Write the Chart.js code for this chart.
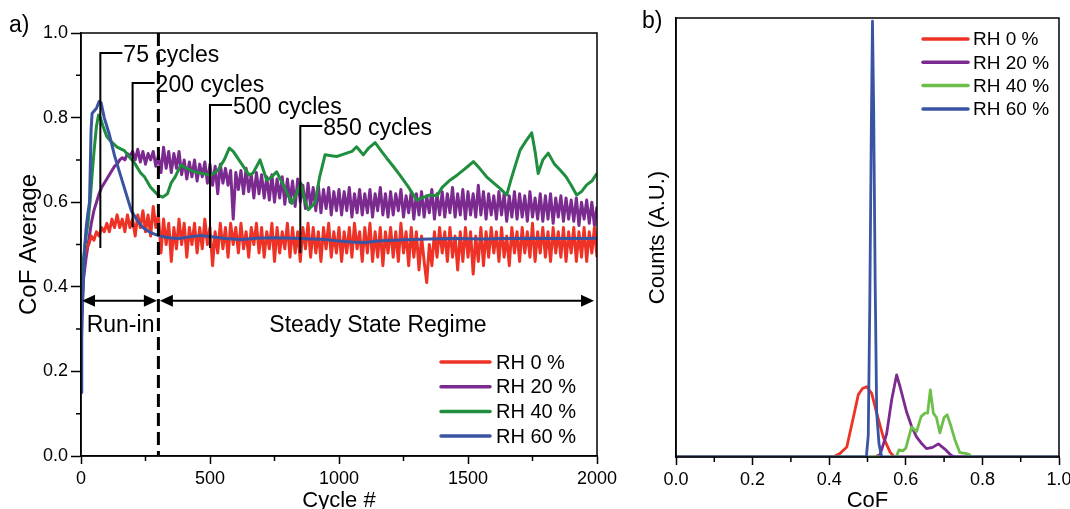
<!DOCTYPE html>
<html><head><meta charset="utf-8">
<script src="https://cdn.jsdelivr.net/npm/chart.js@4.4.1/dist/chart.umd.min.js"></script>
<style>
html,body{margin:0;padding:0;background:#fff;overflow:hidden;width:1070px;height:509px;}
#wa{position:absolute;left:0;top:0;width:630px;height:509px;}
#wb{position:absolute;left:630px;top:0;width:470px;height:509px;}
canvas{display:block;}
</style></head><body>
<div id="wa"><canvas id="ca" width="630" height="509"></canvas></div>
<div id="wb"><canvas id="cb" width="470" height="509"></canvas></div>
<script>
// ---------------- DATA ----------------
const seriesLabels = ['RH 0 %', 'RH 20 %', 'RH 40 %', 'RH 60 %'];

// Panel a) : noisy series sampled every 10 cycles (0..2000)
const cycleGrid = Array.from({length: 201}, (_, i) => i * 10);
const rh0CoF = [
  0.37,0.46,0.49,0.50,0.52,0.51,0.53,0.52,0.54,0.53,
  0.55,0.53,0.56,0.54,0.57,0.54,0.56,0.53,0.57,0.54,
  0.56,0.52,0.57,0.54,0.58,0.53,0.57,0.52,0.59,0.54,
  0.57,0.48,0.56,0.50,0.55,0.46,0.54,0.49,0.56,0.50,
  0.55,0.47,0.54,0.50,0.55,0.48,0.54,0.49,0.56,0.50,
  0.54,0.45,0.53,0.48,0.55,0.49,0.54,0.47,0.55,0.50,
  0.54,0.48,0.55,0.49,0.53,0.47,0.54,0.50,0.55,0.48,
  0.54,0.47,0.53,0.49,0.55,0.46,0.54,0.48,0.53,0.49,
  0.55,0.47,0.54,0.48,0.53,0.46,0.54,0.49,0.55,0.47,
  0.54,0.48,0.53,0.46,0.54,0.49,0.55,0.47,0.53,0.48,
  0.54,0.46,0.53,0.48,0.54,0.47,0.55,0.49,0.53,0.46,
  0.54,0.48,0.55,0.46,0.53,0.47,0.54,0.45,0.53,0.48,
  0.54,0.47,0.53,0.46,0.55,0.48,0.53,0.45,0.54,0.47,
  0.53,0.44,0.52,0.46,0.41,0.50,0.45,0.53,0.47,0.54,
  0.48,0.53,0.46,0.54,0.47,0.52,0.44,0.53,0.46,0.54,
  0.47,0.53,0.43,0.52,0.46,0.54,0.45,0.53,0.47,0.54,
  0.48,0.53,0.46,0.54,0.47,0.52,0.45,0.54,0.48,0.53,
  0.46,0.54,0.48,0.53,0.47,0.55,0.46,0.53,0.48,0.54,
  0.47,0.53,0.46,0.54,0.48,0.53,0.47,0.54,0.46,0.53,
  0.48,0.54,0.46,0.53,0.47,0.54,0.46,0.53,0.48,0.54,
  0.47
];
const rh20CoF = [
  0.30,0.42,0.47,0.51,0.55,0.58,0.60,0.62,0.635,0.645,
  0.655,0.665,0.675,0.685,0.69,0.70,0.705,0.70,0.715,0.71,
  0.72,0.70,0.725,0.695,0.72,0.69,0.715,0.70,0.72,0.685,
  0.71,0.67,0.73,0.68,0.72,0.67,0.715,0.68,0.72,0.665,
  0.70,0.655,0.695,0.66,0.70,0.65,0.69,0.66,0.695,0.645,
  0.69,0.64,0.685,0.62,0.69,0.645,0.68,0.64,0.675,0.56,
  0.67,0.63,0.675,0.62,0.68,0.625,0.665,0.61,0.67,0.62,
  0.665,0.61,0.66,0.605,0.665,0.60,0.655,0.61,0.66,0.595,
  0.655,0.60,0.65,0.59,0.655,0.60,0.64,0.585,0.645,0.59,
  0.635,0.58,0.64,0.575,0.63,0.585,0.635,0.57,0.625,0.58,
  0.63,0.57,0.625,0.58,0.635,0.565,0.62,0.575,0.63,0.57,
  0.62,0.575,0.63,0.565,0.62,0.58,0.635,0.57,0.62,0.565,
  0.625,0.57,0.62,0.58,0.63,0.565,0.615,0.575,0.625,0.56,
  0.62,0.57,0.625,0.565,0.615,0.575,0.63,0.56,0.62,0.57,
  0.625,0.565,0.62,0.575,0.635,0.565,0.62,0.57,0.63,0.56,
  0.625,0.57,0.62,0.565,0.64,0.57,0.625,0.56,0.62,0.57,
  0.615,0.56,0.625,0.57,0.62,0.555,0.615,0.565,0.625,0.56,
  0.62,0.565,0.615,0.555,0.625,0.565,0.61,0.56,0.62,0.555,
  0.615,0.56,0.62,0.55,0.61,0.565,0.615,0.555,0.61,0.56,
  0.605,0.555,0.61,0.545,0.60,0.56,0.605,0.55,0.60,0.545,
  0.59
];
// smooth series
const rh40Cycles = [0,5,10,20,27,35,45,52,60,68,75,85,100,117,140,168,190,207,230,246,270,298,317,335,349,365,387,410,439,470,504,530,555,575,590,620,652,667,694,720,740,758,785,817,835,852,865,881,907,925,946,970,991,1010,1030,1050,1068,1094,1115,1140,1165,1185,1210,1236,1270,1301,1330,1353,1380,1400,1430,1460,1482,1500,1521,1545,1572,1600,1625,1650,1665,1685,1702,1725,1747,1760,1772,1790,1811,1835,1857,1880,1900,1921,1940,1960,1980,2000];
const rh40CoF = [0.33,0.42,0.47,0.52,0.55,0.60,0.68,0.73,0.78,0.806,0.80,0.78,0.755,0.743,0.73,0.722,0.705,0.693,0.67,0.66,0.635,0.617,0.612,0.62,0.645,0.66,0.688,0.68,0.672,0.668,0.664,0.675,0.70,0.728,0.72,0.693,0.664,0.669,0.70,0.652,0.66,0.672,0.64,0.597,0.62,0.645,0.61,0.582,0.598,0.66,0.712,0.71,0.708,0.712,0.716,0.72,0.731,0.712,0.728,0.741,0.72,0.704,0.685,0.664,0.635,0.605,0.612,0.617,0.615,0.635,0.652,0.665,0.676,0.685,0.696,0.68,0.66,0.645,0.632,0.617,0.65,0.69,0.723,0.745,0.764,0.72,0.668,0.70,0.716,0.69,0.676,0.66,0.64,0.617,0.625,0.641,0.65,0.668];
const rh60Cycles = [0,3,6,10,15,20,27,33,36,39,43,50,60,70,78,90,110,130,155,175,195,215,240,270,300,340,380,420,460,500,560,620,680,750,850,950,1000,1050,1100,1150,1250,1350,1450,1550,1650,1750,1850,1950,2000];
const rh60CoF = [0.15,0.28,0.36,0.43,0.50,0.54,0.575,0.60,0.68,0.77,0.81,0.815,0.822,0.838,0.835,0.80,0.76,0.71,0.66,0.62,0.58,0.56,0.54,0.528,0.521,0.516,0.514,0.518,0.521,0.519,0.514,0.512,0.515,0.516,0.514,0.512,0.508,0.506,0.505,0.508,0.511,0.513,0.514,0.513,0.514,0.515,0.514,0.514,0.515];

// Panel a) annotations (cycle markers)
const markerCycles = [75, 200, 500, 850];
const markerTopCoF = [0.953, 0.882, 0.830, 0.780];
const markerBottomCoF = [0.492, 0.541, 0.492, 0.480];
const markerLabels = ['75 cycles', '200 cycles', '500 cycles', '850 cycles'];
const runInEndCycle = 300;
const cycleTicks = [0, 500, 1000, 1500, 2000];
const minorCycleTicks = [250, 750, 1250, 1750];
const cofTicksA = [0, 0.2, 0.4, 0.6, 0.8, 1.0];
const minorCofTicksA = [0.1, 0.3, 0.5, 0.7, 0.9];

// Panel b) histograms
const rh0HistCoF = [0,0.41,0.428,0.446,0.463,0.476,0.487,0.498,0.511,0.524,0.541,0.559,0.57,1];
const rh0HistCounts = [0,0,0.008,0.023,0.09,0.142,0.156,0.16,0.145,0.10,0.046,0.011,0,0];
const rh20HistCoF = [0,0.52,0.533,0.55,0.563,0.576,0.585,0.602,0.615,0.628,0.642,0.654,0.67,0.685,0.702,0.718,0.728,1];
const rh20HistCounts = [0,0,0.006,0.053,0.13,0.187,0.16,0.103,0.07,0.046,0.03,0.019,0.022,0.03,0.018,0.004,0,0];
const rh40HistCoF = [0,0.575,0.582,0.592,0.600,0.615,0.628,0.640,0.650,0.657,0.664,0.672,0.680,0.689,0.700,0.708,0.718,0.728,0.741,0.755,0.765,0.772,1];
const rh40HistCounts = [0,0,0.016,0.014,0.02,0.068,0.058,0.092,0.10,0.10,0.153,0.10,0.09,0.055,0.09,0.096,0.07,0.04,0.01,0.008,0.006,0,0];
const rh60HistCoF = [0,0.497,0.502,0.506,0.510,0.513,0.516,0.520,0.524,0.530,0.537,1];
const rh60HistCounts = [0,0,0.05,0.35,0.75,0.993,0.8,0.4,0.1,0.03,0,0];
const cofTicksB = [0, 0.2, 0.4, 0.6, 0.8, 1.0];
const minorCofTicksB = [0.1, 0.3, 0.5, 0.7, 0.9];

// ---------------- STYLE ----------------
const FONT = "'Liberation Sans', Arial, Helvetica, sans-serif";
const colRed = '#ee3326', colPurple = '#7b2a8f', colGreenA = '#1f8e3e', colGreenB = '#6cc04a', colBlue = '#3a54a4';
const pts = (xs, ys) => xs.map((x, i) => ({x: x, y: ys[i]}));

function drawBox(ctx, a) {
  ctx.save(); ctx.strokeStyle = '#000'; ctx.lineWidth = 1.5;
  ctx.strokeRect(a.left, a.top, a.right - a.left, a.bottom - a.top);
  ctx.restore();
}
function minorTicks(ctx, chart, xs, ys, len) {
  const a = chart.chartArea, sx = chart.scales.x, sy = chart.scales.y;
  ctx.save(); ctx.strokeStyle = '#000'; ctx.lineWidth = 1.5; ctx.beginPath();
  xs.forEach(v => { const p = sx.getPixelForValue(v); ctx.moveTo(p, a.bottom); ctx.lineTo(p, a.bottom + len); });
  ys.forEach(v => { const p = sy.getPixelForValue(v); ctx.moveTo(a.left, p); ctx.lineTo(a.left - len, p); });
  ctx.stroke(); ctx.restore();
}
function arrowHead(ctx, x, y, dir) {
  ctx.beginPath(); ctx.moveTo(x, y); ctx.lineTo(x - dir * 13, y - 6); ctx.lineTo(x - dir * 13, y + 6); ctx.closePath(); ctx.fill();
}
function drawLegend(ctx, chart, colors, x0, y0, dy, lineLen, gap, size) {
  ctx.save();
  ctx.font = size + 'px ' + FONT; ctx.textBaseline = 'middle'; ctx.textAlign = 'left';
  seriesLabels.forEach((lab, i) => {
    const y = y0 + i * dy;
    ctx.strokeStyle = colors[i]; ctx.lineWidth = 3.5; ctx.lineCap = 'round';
    ctx.beginPath(); ctx.moveTo(x0, y); ctx.lineTo(x0 + lineLen, y); ctx.stroke();
    ctx.fillStyle = '#000'; ctx.fillText(lab, x0 + lineLen + gap, y + 1);
  });
  ctx.restore();
}

const decorA = {
  id: 'decorA',
  afterDraw(chart) {
    const ctx = chart.ctx, a = chart.chartArea, sx = chart.scales.x, sy = chart.scales.y;
    drawBox(ctx, a);
    minorTicks(ctx, chart, minorCycleTicks, minorCofTicksA, 5);
    ctx.save();
    // dashed separation line
    const xd = sx.getPixelForValue(runInEndCycle);
    ctx.strokeStyle = '#000'; ctx.lineWidth = 3; ctx.setLineDash([13, 6]);
    ctx.beginPath(); ctx.moveTo(xd, a.top); ctx.lineTo(xd, a.bottom); ctx.stroke();
    ctx.setLineDash([]);
    // markers
    ctx.lineWidth = 2; ctx.font = '23px ' + FONT; ctx.fillStyle = '#000'; ctx.textBaseline = 'middle';
    markerCycles.forEach((c, i) => {
      const x = sx.getPixelForValue(c), yt = sy.getPixelForValue(markerTopCoF[i]), yb = sy.getPixelForValue(markerBottomCoF[i]);
      ctx.beginPath(); ctx.moveTo(x, yb); ctx.lineTo(x, yt); ctx.lineTo(x + 22, yt); ctx.stroke();
      ctx.fillText(markerLabels[i], x + 23, yt + 3);
    });
    // arrows
    const ya = sy.getPixelForValue(0.367);
    const x0 = sx.getPixelForValue(0) + 1, x1 = sx.getPixelForValue(2000) - 3;
    ctx.lineWidth = 2;
    ctx.beginPath(); ctx.moveTo(x0 + 4, ya); ctx.lineTo(xd - 4, ya); ctx.moveTo(xd + 4, ya); ctx.lineTo(x1 - 4, ya); ctx.stroke();
    arrowHead(ctx, x0, ya, -1); arrowHead(ctx, xd - 1.5, ya, 1);
    arrowHead(ctx, xd + 1.5, ya, -1); arrowHead(ctx, x1, ya, 1);
    const yt = sy.getPixelForValue(0.307);
    ctx.textAlign = 'left'; ctx.fillText('Run-in', sx.getPixelForValue(22), yt);
    ctx.textAlign = 'center'; ctx.fillText('Steady State Regime', sx.getPixelForValue(1151), yt);
    // panel letter
    ctx.textAlign = 'left'; ctx.font = '23px ' + FONT; ctx.fillText('a)', 9, 26);
    ctx.restore();
    drawLegend(ctx, chart, [colRed, colPurple, colGreenA, colBlue], a.right - 156, a.bottom - 94, 24.7, 49, 6, 20);
  }
};
const decorB = {
  id: 'decorB',
  afterDraw(chart) {
    const ctx = chart.ctx, a = chart.chartArea;
    drawBox(ctx, a);
    minorTicks(ctx, chart, minorCofTicksB, [], 5);
    ctx.save(); ctx.fillStyle = '#000'; ctx.font = '23px ' + FONT; ctx.textBaseline = 'middle'; ctx.textAlign = 'left';
    ctx.fillText('b)', 12, 22);
    ctx.restore();
    drawLegend(ctx, chart, [colRed, colPurple, colGreenB, colBlue], a.right - 136, a.top + 21, 23.3, 45, 5, 19);
  }
};

const tickFont = {family: FONT, size: 18};
const common = {
  responsive: false, animation: false, devicePixelRatio: 1,
  plugins: {legend: {display: false}, tooltip: {enabled: false}},
  elements: {point: {radius: 0}, line: {tension: 0, borderWidth: 2.8, borderJoinStyle: 'round'}}
};

new Chart(document.getElementById('ca'), {
  type: 'line',
  data: {datasets: [
    {label: seriesLabels[0], data: pts(cycleGrid, rh0CoF), borderColor: colRed, borderWidth: 3, order: 2},
    {label: seriesLabels[1], data: pts(cycleGrid, rh20CoF), borderColor: colPurple, borderWidth: 3, order: 3},
    {label: seriesLabels[2], data: pts(rh40Cycles, rh40CoF), borderColor: colGreenA, borderWidth: 3, order: 1},
    {label: seriesLabels[3], data: pts(rh60Cycles, rh60CoF), borderColor: colBlue, borderWidth: 3, order: 0}
  ]},
  options: Object.assign({}, common, {
    layout: {padding: {left: 0, top: 33, right: 33, bottom: 0}},
    scales: {
      x: {type: 'linear', min: 0, max: 2000,
        afterFit: s => { s.height = 53; },
        afterBuildTicks: s => { s.ticks = cycleTicks.map(v => ({value: v})); },
        ticks: {font: tickFont, color: '#000', padding: 4, maxRotation: 0, autoSkip: false, callback: v => String(v)},
        grid: {drawOnChartArea: false, drawTicks: true, tickLength: 8, color: '#000', tickWidth: 1.5},
        border: {color: '#000', width: 1.5},
        title: {display: true, text: 'Cycle #', color: '#000', font: {family: FONT, size: 22, lineHeight: '16px'}, padding: 0}
      },
      y: {type: 'linear', min: 0, max: 1,
        afterFit: s => { s.width = 81; },
        afterBuildTicks: s => { s.ticks = cofTicksA.map(v => ({value: v})); },
        ticks: {font: tickFont, color: '#000', padding: 3, callback: v => Number(v).toFixed(1)},
        grid: {drawOnChartArea: false, drawTicks: true, tickLength: 10, color: '#000', tickWidth: 1.5},
        border: {color: '#000', width: 1.5},
        title: {display: true, text: 'CoF Average', color: '#000', font: {family: FONT, size: 24}, padding: {top: 15, bottom: 0}}
      }
    }
  }),
  plugins: [decorA]
});

new Chart(document.getElementById('cb'), {
  type: 'line',
  data: {datasets: [
    {label: seriesLabels[0], data: pts(rh0HistCoF, rh0HistCounts), borderColor: colRed, order: 3},
    {label: seriesLabels[1], data: pts(rh20HistCoF, rh20HistCounts), borderColor: colPurple, order: 2},
    {label: seriesLabels[2], data: pts(rh40HistCoF, rh40HistCounts), borderColor: colGreenB, order: 1},
    {label: seriesLabels[3], data: pts(rh60HistCoF, rh60HistCounts), borderColor: colBlue, order: 0}
  ]},
  options: Object.assign({}, common, {
    layout: {padding: {left: 0, top: 18, right: 41, bottom: 0}},
    scales: {
      x: {type: 'linear', min: 0, max: 1,
        afterFit: s => { s.height = 52; },
        afterBuildTicks: s => { s.ticks = cofTicksB.map(v => ({value: v})); },
        ticks: {font: tickFont, color: '#000', padding: 4, maxRotation: 0, autoSkip: false, callback: v => Number(v).toFixed(1)},
        grid: {drawOnChartArea: false, drawTicks: true, tickLength: 8, color: '#000', tickWidth: 1.5},
        border: {color: '#000', width: 1.5},
        title: {display: true, text: 'CoF', color: '#000', font: {family: FONT, size: 22, lineHeight: '16px'}, padding: 0}
      },
      y: {type: 'linear', min: 0, max: 1,
        afterFit: s => { s.width = 46; },
        ticks: {display: false},
        grid: {display: false, drawTicks: false},
        border: {color: '#000', width: 1.5},
        title: {display: true, text: 'Counts (A.U.)', color: '#000', font: {family: FONT, size: 22}, padding: {top: 15, bottom: 0}}
      }
    }
  }),
  plugins: [decorB]
});
</script>
</body></html>
